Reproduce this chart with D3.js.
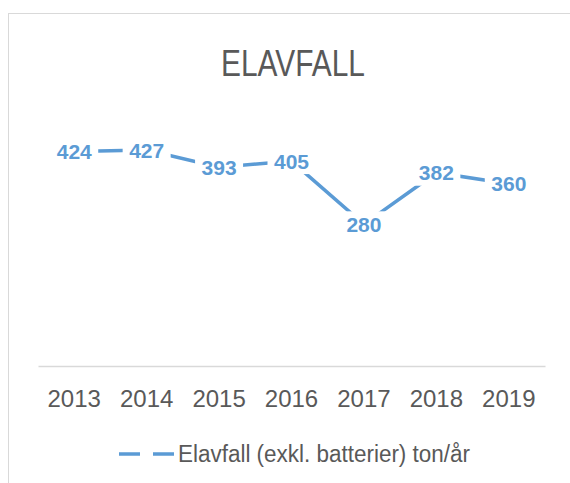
<!DOCTYPE html>
<html>
<head>
<meta charset="utf-8">
<script src="https://cdn.jsdelivr.net/npm/d3@7"></script>
<style>
  body { margin: 0; background: #fff; }
  svg { display: block; font-family: "Liberation Sans", Arial, sans-serif; }
</style>
</head>
<body>
<script>
'use strict'

const years = ['2013', '2014', '2015', '2016', '2017', '2018', '2019']
const values = [424, 427, 393, 405, 280, 382, 360]
const seriesName = 'Elavfall (exkl. batterier) ton/år'
const title = 'ELAVFALL'

const width = 570, height = 483
const plot = {left: 38, right: 545, top: 113, bottom: 366}
const blue = '#5B9BD5', grey = '#595959'

const svg = d3.select('body').append('svg')
  .attr('width', width)
  .attr('height', height)

// chart frame (runs off the right and bottom of the picture)
svg.append('rect')
  .attr('x', 8.5).attr('y', 13.5)
  .attr('width', 600).attr('height', 500)
  .attr('fill', 'none')
  .attr('stroke', '#d9d9d9')

svg.append('text')
  .attr('x', 293).attr('y', 76)
  .attr('text-anchor', 'middle')
  .attr('font-size', 37)
  .attr('textLength', 144)
  .attr('lengthAdjust', 'spacingAndGlyphs')
  .attr('fill', grey)
  .text(title)

const x = d3.scaleBand()
  .domain(years)
  .range([plot.left, plot.right])

const y = d3.scaleLinear()
  .domain([0, 500])
  .range([plot.bottom, plot.top])

// category axis
const xAxis = svg.append('g')
  .attr('transform', 'translate(0,' + plot.bottom + ')')
  .call(d3.axisBottom(x).tickSize(0).tickPadding(0))
xAxis.select('.domain').attr('stroke', '#d9d9d9').attr('stroke-width', 1.3)
xAxis.selectAll('text')
  .attr('font-family', '"Liberation Sans", Arial, sans-serif')
  .attr('font-size', 24)
  .attr('fill', grey)
  .attr('dy', null)
  .attr('y', 41)

const pts = years.map((yr, i) => [x(yr) + x.bandwidth() / 2, y(values[i])])

svg.append('path')
  .datum(pts)
  .attr('d', d3.line())
  .attr('fill', 'none')
  .attr('stroke', blue)
  .attr('stroke-width', 3.5)

const labels = svg.append('g')
  .selectAll('g')
  .data(values)
  .enter()
  .append('g')
  .attr('transform', (d, i) => 'translate(' + pts[i] + ')')

labels.append('rect')
  .attr('x', -24).attr('y', -13)
  .attr('width', 48).attr('height', 26)
  .attr('fill', '#fff')

labels.append('text')
  .attr('text-anchor', 'middle')
  .attr('dy', '0.36em')
  .attr('font-size', 21)
  .attr('font-weight', 'bold')
  .attr('fill', blue)
  .text(d => d)

// legend
const legend = svg.append('g')
legend.append('line')
  .attr('x1', 119).attr('x2', 174)
  .attr('y1', 454).attr('y2', 454)
  .attr('stroke', blue)
  .attr('stroke-width', 3.5)
  .attr('stroke-dasharray', '21,13')
legend.append('text')
  .attr('x', 178).attr('y', 462)
  .attr('font-size', 23)
  .attr('textLength', 292)
  .attr('lengthAdjust', 'spacingAndGlyphs')
  .attr('fill', grey)
  .text(seriesName)
</script>
</body>
</html>
